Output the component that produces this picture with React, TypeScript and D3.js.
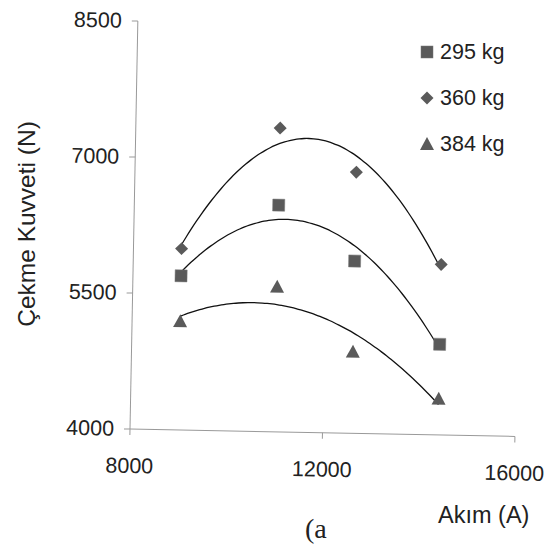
import React from 'react';
import * as d3 from 'd3';

// readings
const currents = [9000, 11000, 12600, 14400];
const force295 = [5700, 6500, 5900, 5000];
const force360 = [6000, 7350, 6880, 5880];
const force384 = [5200, 5600, 4900, 4400];

const seriesNames = ['295 kg', '360 kg', '384 kg'];
const xTicks = [8000, 12000, 16000];
const yTicks = [4000, 5500, 7000, 8500];

const W = 546, H = 544;
const ox = 130, oy = 429; // axis origin on the page
const skew = 1.1; // the scan is a little tilted

// 2nd order least squares, like the spreadsheet trendline
function polyFit(xs: number[], ys: number[]) {
  const m = d3.mean(xs) as number;
  const t = xs.map(x => (x - m) / 1000);
  let s = [0, 0, 0, 0, 0], r = [0, 0, 0];
  t.forEach((x, i) => {
    for (let k = 0; k < 5; k++) s[k] += x ** k;
    for (let k = 0; k < 3; k++) r[k] += ys[i] * x ** k;
  });
  const A = [[s[0], s[1], s[2]], [s[1], s[2], s[3]], [s[2], s[3], s[4]]];
  const det = (M: number[][]) =>
    M[0][0] * (M[1][1] * M[2][2] - M[1][2] * M[2][1]) -
    M[0][1] * (M[1][0] * M[2][2] - M[1][2] * M[2][0]) +
    M[0][2] * (M[1][0] * M[2][1] - M[1][1] * M[2][0]);
  const D = det(A);
  const c = [0, 1, 2].map(j => det(A.map((row, i) => row.map((v, k) => (k === j ? r[i] : v)))) / D);
  return (x: number) => {
    const u = (x - m) / 1000;
    return c[0] + c[1] * u + c[2] * u * u;
  };
}

const Marker = ({ kind, x, y }: { kind: number; x: number; y: number }) => {
  const fill = '#5a5a5a';
  if (kind === 0) return <rect x={x - 6} y={y - 6} width={12} height={12} fill={fill} stroke="#777" strokeWidth={0.5} />;
  if (kind === 1) return <path d={`M${x},${y - 6.5}L${x + 6.5},${y}L${x},${y + 6.5}L${x - 6.5},${y}Z`} fill={fill} />;
  return <path d={`M${x},${y - 7}L${x + 7},${y + 6}L${x - 7},${y + 6}Z`} fill={fill} />;
};

export default function App() {
  const x = d3.scaleLinear().domain([8000, 16000]).range([ox, 515]);
  const y = d3.scaleLinear().domain([4000, 8500]).range([oy, 21]);
  const all = [force295, force360, force384];
  const line = d3.line<[number, number]>().x(d => x(d[0])).y(d => y(d[1])).curve(d3.curveBasis);
  const font = "'Liberation Sans', Arial, sans-serif";

  return (
    <svg width={W} height={H} style={{ position: 'absolute', left: 0, top: 0, background: '#fff' }}>
      <g transform={`rotate(${skew},${ox},${oy})`} fontFamily={font} fill="#222">
        <line x1={ox} x2={ox} y1={y(8500)} y2={oy} stroke="#999" />
        <line x1={ox} x2={x(16000)} y1={oy} y2={oy} stroke="#999" />
        {yTicks.map(t => (
          <g key={t}>
            <line x1={ox - 6} x2={ox} y1={y(t)} y2={y(t)} stroke="#999" />
            <text x={ox - 16} y={y(t) + 7} textAnchor="end" fontSize={21.5}>{t}</text>
          </g>
        ))}
        {xTicks.map(t => (
          <g key={t}>
            <line x1={x(t)} x2={x(t)} y1={oy} y2={oy + 6} stroke="#999" />
            <text x={x(t)} y={oy + 44} textAnchor="middle" fontSize={21.5}>{t}</text>
          </g>
        ))}
        {all.map((ys, i) => {
          const f = polyFit(currents, ys);
          const pts = d3.range(currents[0], currents[3] + 1, 100).map(v => [v, f(v)] as [number, number]);
          return <path key={'c' + i} d={line(pts) as string} fill="none" stroke="#111" strokeWidth={1.3} />;
        })}
        {all.map((ys, i) => ys.map((v, j) => (
          <Marker key={i + '-' + j} kind={i} x={x(currents[j])} y={y(v)} />
        )))}
      </g>
      <text transform="translate(35,224) rotate(-90)" textAnchor="middle" fontSize={24.5} fontFamily={font} fill="#222">
        Çekme Kuvveti (N)
      </text>
      {seriesNames.map((s, i) => (
        <g key={s} fontFamily={font} fill="#222">
          <Marker kind={i} x={427} y={52 + i * 46} />
          <text x={440} y={59 + i * 46} fontSize={21.5}>{s}</text>
        </g>
      ))}
      <text x={438} y={523} fontSize={23.5} fontFamily={font} fill="#222">Akım (A)</text>
      <text x={305} y={538} fontSize={28} fontFamily="'Liberation Serif', 'Times New Roman', serif" fill="#222">(a</text>
    </svg>
  );
}
